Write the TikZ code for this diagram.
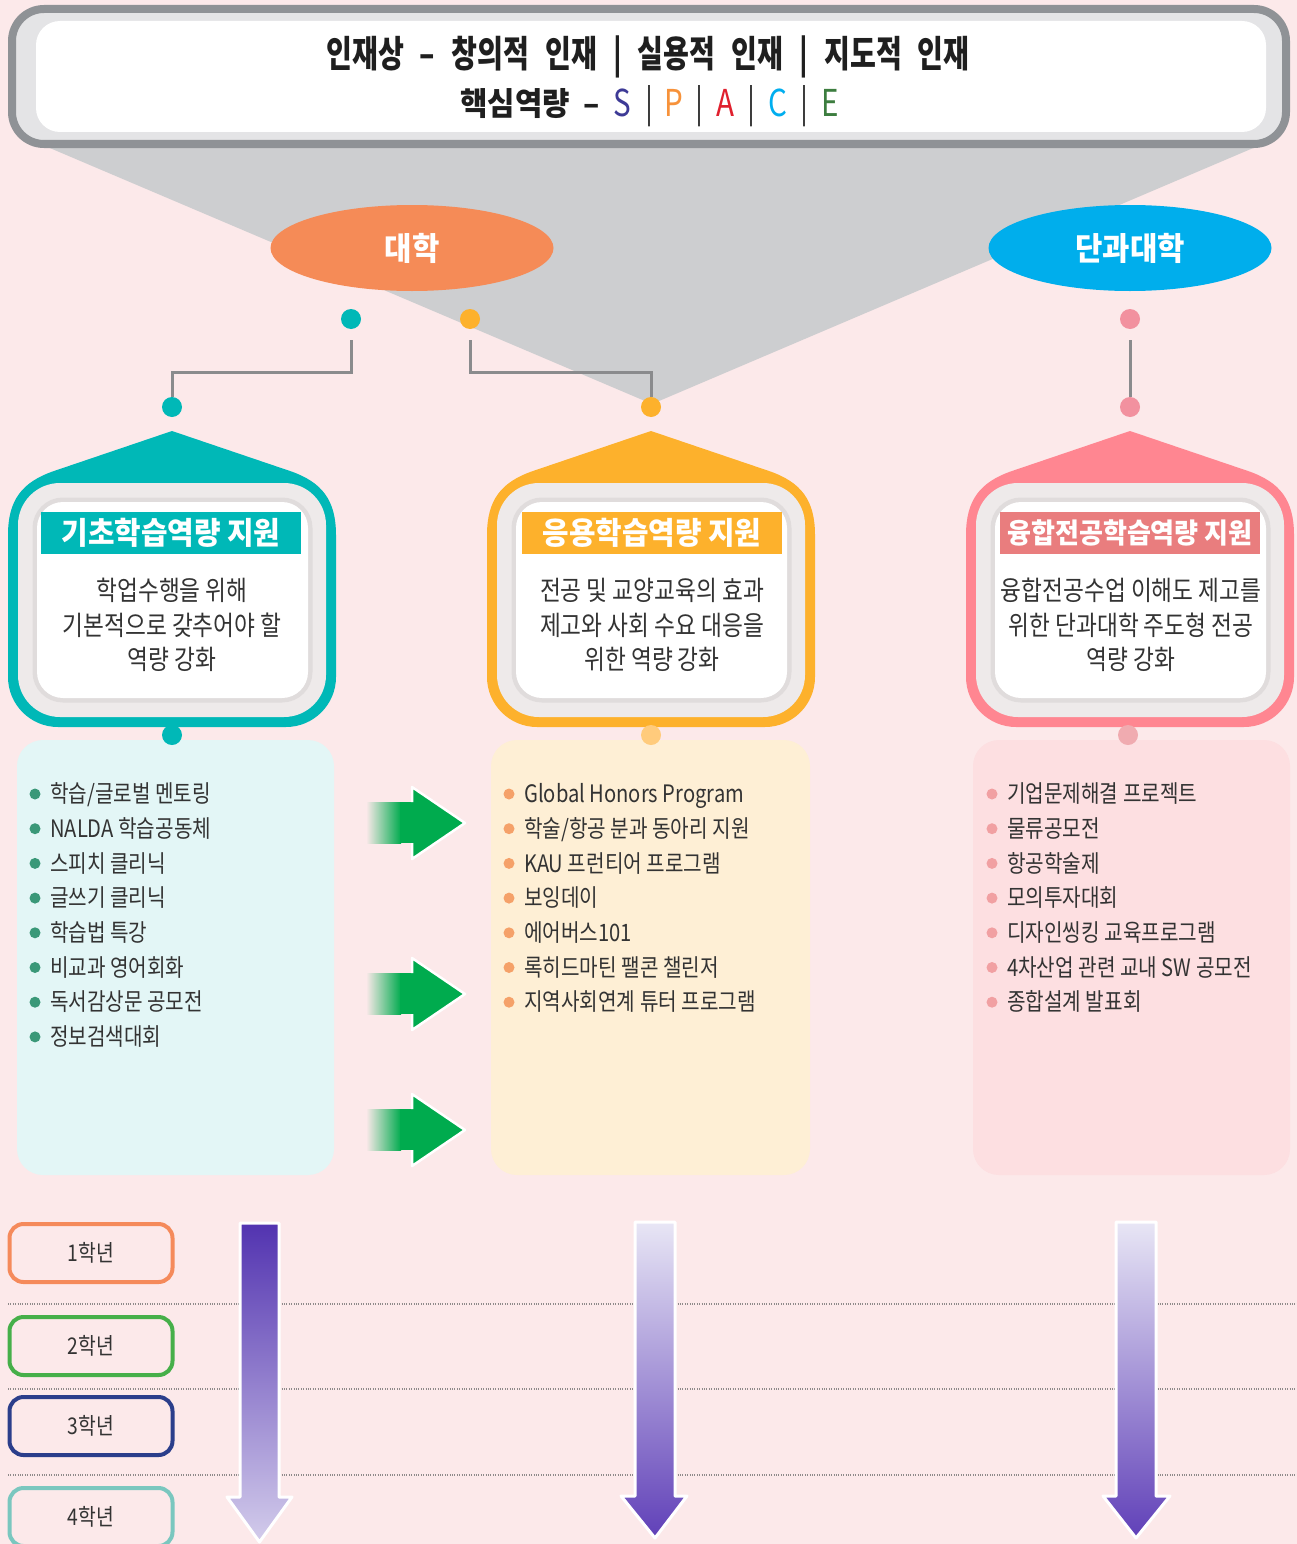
\documentclass[tikz,border=0pt]{standalone}
\usepackage{fontspec}
\usetikzlibrary{shapes.geometric}
\newfontfamily\krn[FakeStretch=0.84]{Noto Sans CJK KR}
\newfontfamily\krm[FakeStretch=0.93]{Noto Sans CJK KR}
\newfontfamily\krt[FakeStretch=0.76,WordSpace=2.5]{Noto Sans CJK KR}
\newfontfamily\krl[FakeStretch=0.8]{Noto Sans CJK KR}
\definecolor{bg}{HTML}{FCE9EA}
\definecolor{trigray}{HTML}{CDCED0}
\definecolor{bannerborder}{HTML}{8F9296}
\definecolor{bannerfill}{HTML}{E4E4E6}
\definecolor{txt}{HTML}{333333}
\definecolor{ellorange}{HTML}{F58B57}
\definecolor{ellblue}{HTML}{00AEEC}
\definecolor{tealc}{HTML}{00B8B7}
\definecolor{orangec}{HTML}{FDB12C}
\definecolor{pinkc}{HTML}{FF8691}
\definecolor{pinkbar}{HTML}{E97D7E}
\definecolor{pinkdot}{HTML}{F2919F}
\definecolor{conngray}{HTML}{8A8B8D}
\definecolor{houseIn}{HTML}{EEEAEA}
\definecolor{cardsh}{HTML}{E0DCDC}
\definecolor{tealL}{HTML}{E3F6F6}
\definecolor{orangeL}{HTML}{FEEFD5}
\definecolor{pinkL}{HTML}{FDDFE1}
\definecolor{tealbul}{HTML}{3A9878}
\definecolor{orangebul}{HTML}{F5A169}
\definecolor{pinkbul}{HTML}{F1A0A2}
\definecolor{orangedot}{HTML}{FFCB7C}
\definecolor{pinkdotb}{HTML}{F0ABB0}
\definecolor{agreen}{HTML}{00AB4E}
\definecolor{pdark}{HTML}{5233B0}
\definecolor{plight}{HTML}{D3CCEB}
\definecolor{plighttop}{HTML}{E8E6F5}
\definecolor{pdarkbot}{HTML}{6040B8}
\definecolor{yrA}{HTML}{F58A5B}
\definecolor{yrB}{HTML}{46AF49}
\definecolor{yrC}{HTML}{2B3E8B}
\definecolor{yrD}{HTML}{7AC7BF}
\definecolor{dotgray}{HTML}{8E8A8A}
\definecolor{cS}{HTML}{3D3A96}
\definecolor{cP}{HTML}{F7923A}
\definecolor{cA}{HTML}{E0202E}
\definecolor{cC}{HTML}{00AEEF}
\definecolor{cE}{HTML}{3C7D3F}
\tikzset{
  body/.style={font=\krn\fontsize{27}{30}\selectfont, text=txt, anchor=center, inner sep=0pt},
  item/.style={font=\krn\fontsize{24}{27}\selectfont, text=txt, anchor=base west, inner sep=0pt},
  tbar/.style={font=\krm\bfseries\fontsize{31}{34}\selectfont, text=white, minimum width=260pt, minimum height=42pt, inner sep=0pt},
  ell/.style={ellipse, minimum width=283pt, minimum height=86pt, inner sep=0pt, font=\krm\bfseries\fontsize{32}{35}\selectfont, text=white},
  dotnode/.style={circle, minimum size=20pt, inner sep=0pt},
  bul/.style={circle, minimum size=11pt, inner sep=0pt},
  conn/.style={draw=conngray, line width=3pt},
  yearbox/.style={draw, line width=4pt, rounded corners=14pt, minimum width=163pt, minimum height=58pt, inner sep=0pt, font=\krn\fontsize{23}{26}\selectfont, text=txt},
  dotline/.style={draw=dotgray, line width=1.2pt, dash pattern=on 1pt off 1.4pt},
  parrow/.style={draw=white, line width=3pt, line join=round},
  spc/.style={anchor=base, inner sep=0pt, font=\krl\fontsize{37}{40}\selectfont},
}
\newcommand\housebody[2]{%
  \begin{scope}[shift={(#1,0)}]
    \fill[#2] (0,431) -- (118,471) .. controls (150,482) and (164,500) .. (164,535) -- (164,677) .. controls (164,704.6) and (141.6,727) .. (114,727) -- (-114,727) .. controls (-141.6,727) and (-164,704.6) .. (-164,677) -- (-164,535) .. controls (-164,500) and (-150,482) .. (-118,471) -- cycle;
    \fill[houseIn, rounded corners=42pt] (-154,483) rectangle (154,717);
    \draw[cardsh, line width=9pt, rounded corners=26pt] (-135,502) rectangle (136,698);
    \fill[white, rounded corners=26pt] (-135,502) rectangle (136,698);
  \end{scope}}
\begin{document}
\begin{tikzpicture}[x=1pt,y=-1pt]
\clip (0,0) rectangle (1297,1544);
\fill[bg] (0,0) rectangle (1297,1544);

% gray funnel
\fill[trigray] (31,140) -- (1272,140) -- (652,404) -- cycle;

% top banner
\draw[draw=bannerborder, line width=8pt, fill=bannerfill, rounded corners=32pt] (12,9) rectangle (1286,144);
\fill[white, rounded corners=24pt] (36,21) rectangle (1266,132);
\node[anchor=base, inner sep=0pt, font=\krt\bfseries\fontsize{37}{40}\selectfont, text=black!88] (ideal) at (648,68) {인재상 – 창의적 인재 | 실용적 인재 | 지도적 인재};
\node[anchor=base, inner sep=0pt, font=\krm\bfseries\fontsize{32}{35}\selectfont, text=black!88] (core) at (515,116) {핵심역량};
\node[spc, font=\krm\bfseries\fontsize{32}{35}\selectfont, text=black!88] (coredash) at (592,116) {–};
\node[spc, text=cS] (lS) at (622,117) {S};
\node[spc, text=cP] (lP) at (674,117) {P};
\node[spc, text=cA] (lA) at (725,117) {A};
\node[spc, text=cC] (lC) at (778,117) {C};
\node[spc, text=cE] (lE) at (830,117) {E};
\foreach \bx [count=\i] in {649,699,751,804}{
  \node[spc, text=black!80] (bar\i) at (\bx,117) {|};
}

% ellipses
\node[ell, fill=ellorange] (univ) at (412,248) {대학};
\node[ell, fill=ellblue] (coll) at (1130,248) {단과대학};

% dots and connectors
\node[dotnode, fill=tealc] (dT1) at (351,319) {};
\node[dotnode, fill=orangec] (dO1) at (470,319) {};
\node[dotnode, fill=pinkdot] (dP1) at (1130,319) {};
\node[dotnode, fill=tealc] (dT2) at (172,407) {};
\node[dotnode, fill=orangec] (dO2) at (651,407) {};
\node[dotnode, fill=pinkdot] (dP2) at (1130,407) {};
\coordinate (cT) at (351,340);
\coordinate (cO) at (470,340);
\coordinate (cP) at (1130,340);
\draw[conn] (cT) -- ++(0,32) -| (dT2);
\draw[conn] (cO) -- ++(0,32) -| (dO2);
\draw[conn] (cP) -- (dP2);

% list boxes
\fill[tealL, rounded corners=26pt] (17,740) rectangle (334,1175);
\fill[orangeL, rounded corners=26pt] (491,740) rectangle (810,1175);
\fill[pinkL, rounded corners=26pt] (973,740) rectangle (1290,1175);

% houses
\housebody{172}{tealc}
\housebody{651}{orangec}
\housebody{1130}{pinkc}

\node[tbar, fill=tealc] (tt) at (171,533) {기초학습역량 지원};
\node[tbar, fill=orangec] (to) at (652,533) {응용학습역량 지원};
\node[tbar, fill=pinkbar, font=\krm\bfseries\fontsize{28}{31}\selectfont] (tp) at (1130,533) {융합전공학습역량 지원};

\node[body] (bt1) at (172,590) {학업수행을 위해};
\node[body] (bt2) at (172,625) {기본적으로 갖추어야 할};
\node[body] (bt3) at (172,659) {역량 강화};
\node[body] (bo1) at (652,590) {전공 및 교양교육의 효과};
\node[body] (bo2) at (652,625) {제고와 사회 수요 대응을};
\node[body] (bo3) at (652,659) {위한 역량 강화};
\node[body] (bp1) at (1131,590) {융합전공수업 이해도 제고를};
\node[body] (bp2) at (1131,625) {위한 단과대학 주도형 전공};
\node[body] (bp3) at (1131,659) {역량 강화};

\node[dotnode, fill=tealc] (lT) at (172,735) {};
\node[dotnode, fill=orangedot] (lO) at (651,735) {};
\node[dotnode, fill=pinkdotb] (lP) at (1128,735) {};

% lists
\foreach \t [count=\i] in {학습/글로벌 멘토링, NALDA 학습공동체, 스피치 클리닉, 글쓰기 클리닉, 학습법 특강, 비교과 영어회화, 독서감상문 공모전, 정보검색대회}{
  \node[bul, fill=tealbul] (la\i) at (35,{759.3+34.7*\i}) {};
  \node[item] (lta\i) at (50,{768+34.7*\i}) {\t};
}
\foreach \t [count=\i] in {Global Honors Program, 학술/항공 분과 동아리 지원, KAU 프런티어 프로그램, 보잉데이, 에어버스101, 록히드마틴 팰콘 챌린저, 지역사회연계 튜터 프로그램}{
  \node[bul, fill=orangebul] (lb\i) at (509,{759.3+34.7*\i}) {};
  \node[item] (ltb\i) at (524,{768+34.7*\i}) {\t};
}
\foreach \t [count=\i] in {기업문제해결 프로젝트, 물류공모전, 항공학술제, 모의투자대회, 디자인씽킹 교육프로그램, 4차산업 관련 교내 SW 공모전, 종합설계 발표회}{
  \node[bul, fill=pinkbul] (lc\i) at (992,{759.3+34.7*\i}) {};
  \node[item] (ltc\i) at (1007,{768+34.7*\i}) {\t};
}

% green arrows
\foreach \yy in {823,994,1130}{
  \shade[left color=bg, right color=agreen] (366,\yy-21) rectangle (401,\yy+20);
  \fill[agreen] (400,\yy-21) rectangle (413,\yy+20);
  \filldraw[fill=agreen, draw=white, line width=2.5pt, line join=round] (412,\yy-21) -- (412,\yy-36) -- (465,\yy) -- (412,\yy+36) -- (412,\yy+20);
}

% grade rows
\draw[dotline] (8,1304) -- (1297,1304);
\draw[dotline] (8,1389) -- (1297,1389);
\draw[dotline] (8,1475) -- (1297,1475);
\node[yearbox, draw=yrA] (g1) at (91,1253) {1학년};
\node[yearbox, draw=yrB] (g2) at (91,1346) {2학년};
\node[yearbox, draw=yrC] (g3) at (91,1426) {3학년};
\node[yearbox, draw=yrD] (g4) at (91,1517) {4학년};

% purple arrows
\path[parrow, top color=pdark, bottom color=plight] (240,1223) -- (279,1223) -- (279,1497) -- (292,1497) -- (259.5,1542) -- (227,1497) -- (240,1497) -- cycle;
\path[parrow, top color=plighttop, bottom color=pdarkbot] (635,1222) -- (675,1222) -- (675,1496) -- (687,1496) -- (655,1538) -- (621,1496) -- (635,1496) -- cycle;
\path[parrow, top color=plighttop, bottom color=pdarkbot] (1116,1222) -- (1156,1222) -- (1156,1496) -- (1170,1496) -- (1136,1538) -- (1103,1496) -- (1116,1496) -- cycle;
\end{tikzpicture}
\end{document}
